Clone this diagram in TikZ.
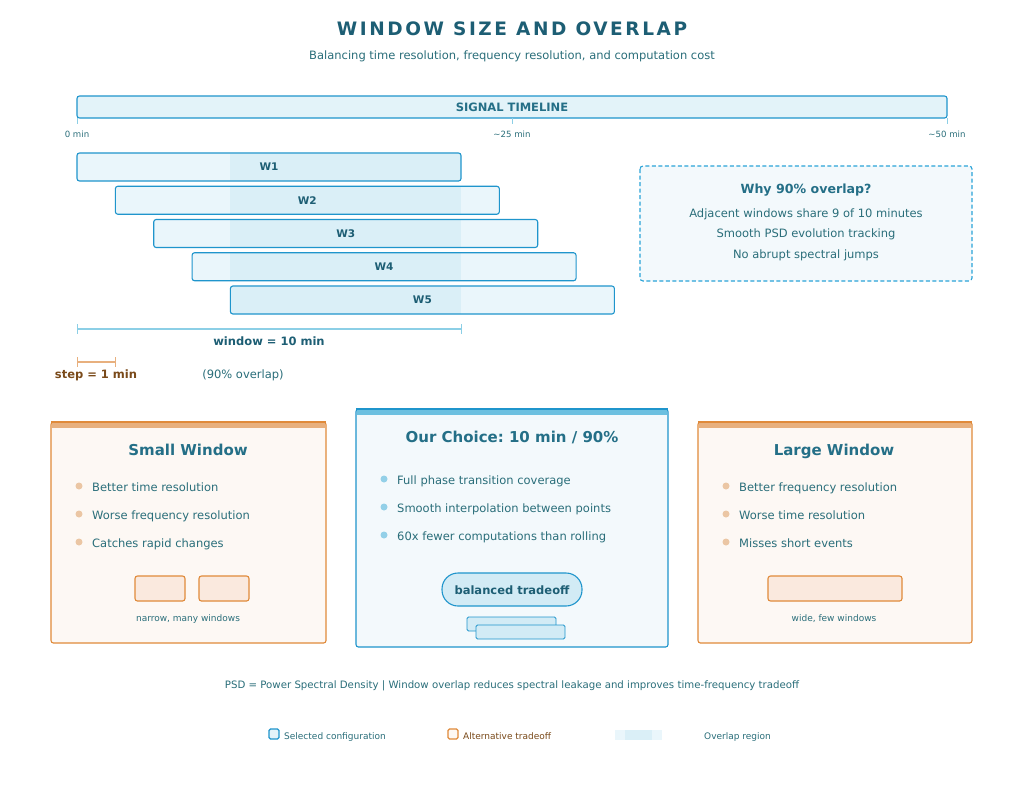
\documentclass[tikz,border=0pt]{standalone}
\usepackage{fontspec}
\setmainfont{DejaVu Sans}
\newfontfamily\titlefont[LetterSpace=14]{DejaVu Sans}
\frenchspacing
\definecolor{ttl}{HTML}{1D5E74}
\definecolor{ctl}{HTML}{246F87}
\definecolor{txt}{HTML}{2A6E7A}
\definecolor{blu}{HTML}{1F95CC}
\definecolor{bluD}{HTML}{2AA3D8}
\definecolor{bluL}{HTML}{8CCFE6}
\definecolor{bluF}{HTML}{E3F3F9}
\definecolor{winF}{HTML}{EAF6FB}
\definecolor{ovF}{HTML}{DAEFF7}
\definecolor{pillF}{HTML}{D2EBF5}
\definecolor{cardB}{HTML}{F3F9FC}
\definecolor{bluBand}{HTML}{6CC0E0}
\definecolor{org}{HTML}{E08A3A}
\definecolor{orgL}{HTML}{E8B07E}
\definecolor{orgF}{HTML}{FDF8F4}
\definecolor{orgBox}{HTML}{FAE9DE}
\definecolor{dotO}{HTML}{EBC6A4}
\definecolor{dotB}{HTML}{93D0E8}
\definecolor{brn}{HTML}{7A4A1A}
\tikzset{
  every node/.style={anchor=base, inner sep=0pt},
  win/.style={draw=blu, line width=1.1pt, rounded corners=2.5pt},
  lbl/.style={font=\fontsize{10.5}{12}\selectfont\bfseries, text=ttl},
  body/.style={font=\fontsize{11.5}{13}\selectfont, text=txt},
  bullet/.style={body, anchor=base west},
  card/.style={line width=1.1pt, rounded corners=2.5pt},
  cardtitle/.style={font=\fontsize{15}{18}\selectfont\bfseries, text=ctl},
  small/.style={font=\fontsize{9}{11}\selectfont, text=txt},
  tick/.style={font=\fontsize{8.6}{10}\selectfont, text=txt}
}
\begin{document}
\begin{tikzpicture}[x=1pt,y=-1pt]
\useasboundingbox (0,0) rectangle (1024,793);
\fill[white] (0,0) rectangle (1024,793);
% title
\node[font=\titlefont\fontsize{18.5}{22}\selectfont\bfseries, text=ttl] (title) at (512,35.7) {WINDOW SIZE AND OVERLAP};
\node[font=\fontsize{11.5}{13}\selectfont, text=txt] (sub) at (512,59.1) {Balancing time resolution, frequency resolution, and computation cost};
% timeline
\draw[win, fill=bluF] (77,96) rectangle (947,118);
\node[lbl, font=\fontsize{11.5}{13}\selectfont\bfseries, text=ctl] (tl) at (512,111.1) {SIGNAL TIMELINE};
\foreach \x/\t [count=\i] in {77/0 min,512/\textasciitilde25 min,947/\textasciitilde50 min}{
  \draw[bluL, line width=0.8pt] (\x,118) -- (\x,124);
  \node[tick] (tk\i) at (\x,137.1) {\t};
}
% windows
\foreach \i in {1,...,5}{
  \pgfmathsetmacro{\xa}{77+38.35*(\i-1)}
  \pgfmathsetmacro{\ya}{153+33.25*(\i-1)}
  \fill[winF, rounded corners=2.5pt] (\xa,\ya) rectangle ++(384,28);
  \fill[ovF] (230,\ya+0.5) rectangle (461,\ya+27.5);
  \draw[win] (\xa,\ya) rectangle ++(384,28);
  \node[lbl] (w\i) at (\xa+192,\ya+17.8) {W\i};
}
% window dimension
\draw[bluL, line width=1.3pt] (77,329) -- (461,329);
\draw[bluL, line width=0.8pt] (77,324) -- (77,334) (461,324) -- (461,334);
\node[lbl, font=\fontsize{11.5}{13}\selectfont\bfseries] (wl) at (269,345.1) {window = 10 min};
% step
\draw[orgL, line width=1.3pt] (77,362) -- (115,362);
\draw[orgL, line width=0.8pt] (77,357) -- (77,367) (115,357) -- (115,367);
\node[font=\fontsize{11.5}{13}\selectfont\bfseries, text=brn] (sl) at (96,378.1) {step = 1 min};
\node[body] (ov) at (243,378.1) {(90\% overlap)};
% why box
\draw[draw=bluD, dash pattern=on 4pt off 2.5pt, line width=1.1pt, fill=cardB, rounded corners=3pt] (640,166) rectangle (972,281);
\node[font=\fontsize{12.6}{15}\selectfont\bfseries, text=ctl] (why) at (806,193.5) {Why 90\% overlap?};
\node[body] (why1) at (806,217.1) {Adjacent windows share 9 of 10 minutes};
\node[body] (why2) at (806,237.6) {Smooth PSD evolution tracking};
\node[body] (why3) at (806,258.1) {No abrupt spectral jumps};
% small window card
\draw[card, draw=org, fill=orgF] (51,422) rectangle (326,643);
\fill[orgL] (51.6,422.6) rectangle (325.4,428);
\draw[org, line width=1.1pt] (51,422) -- (326,422);
\node[cardtitle] (st) at (188,455.4) {Small Window};
\foreach \y/\t [count=\i] in {486/Better time resolution,514/Worse frequency resolution,542/Catches rapid changes}{
  \fill[dotO] (79,\y) circle (3.5);
  \node[bullet] (sb\i) at (92,\y+5.1) {\t};
}
\draw[card, draw=org, fill=orgBox] (135,576) rectangle (185,601);
\draw[card, draw=org, fill=orgBox] (199,576) rectangle (249,601);
\node[small] (sc) at (188,621.2) {narrow, many windows};
% center card
\draw[card, draw=blu, fill=cardB] (356,409) rectangle (668,647);
\fill[bluBand] (356.6,409.6) rectangle (667.4,415);
\draw[blu, line width=1.1pt] (356,409) -- (668,409);
\node[cardtitle] (ct) at (512,442.4) {Our Choice: 10 min / 90\%};
\foreach \y/\t [count=\i] in {479/Full phase transition coverage,507/Smooth interpolation between points,535/60x fewer computations than rolling}{
  \fill[dotB] (384,\y) circle (3.5);
  \node[bullet] (cb\i) at (397,\y+5.1) {\t};
}
\draw[line width=1.1pt, draw=blu, fill=pillF, rounded corners=16pt] (442,573) rectangle (582,606);
\node[lbl, font=\fontsize{11.5}{13}\selectfont\bfseries] (bt) at (512,594.1) {balanced tradeoff};
\draw[draw=blu, fill=pillF, line width=0.8pt, rounded corners=1.5pt] (467,617) rectangle (556,631);
\draw[draw=blu, fill=pillF, line width=0.8pt, rounded corners=1.5pt] (476,625) rectangle (565,639);
% large window card
\draw[card, draw=org, fill=orgF] (698,422) rectangle (972,643);
\fill[orgL] (698.6,422.6) rectangle (971.4,428);
\draw[org, line width=1.1pt] (698,422) -- (972,422);
\node[cardtitle] (lt) at (834,455.4) {Large Window};
\foreach \y/\t [count=\i] in {486/Better frequency resolution,514/Worse time resolution,542/Misses short events}{
  \fill[dotO] (726,\y) circle (3.5);
  \node[bullet] (lb\i) at (739,\y+5.1) {\t};
}
\draw[card, draw=org, fill=orgBox] (768,576) rectangle (902,601);
\node[small] (lc) at (834,621.2) {wide, few windows};
% footer
\node[font=\fontsize{10.2}{12}\selectfont, text=txt] (foot) at (512,688.7) {PSD = Power Spectral Density | Window overlap reduces spectral leakage and improves time-frequency tradeoff};
% legend
\draw[draw=blu, fill=bluF, line width=1.1pt, rounded corners=1.5pt] (269,729) rectangle (279,739);
\node[small, anchor=base west] (lg1) at (284,739.2) {Selected configuration};
\draw[draw=org, fill=orgF, line width=1.1pt, rounded corners=1.5pt] (448,729) rectangle (458,739);
\node[small, anchor=base west, text=brn] (lg2) at (463,739.2) {Alternative tradeoff};
\fill[winF] (615,730) rectangle (662,740);
\fill[ovF] (625,730) rectangle (652,740);
\node[small, anchor=base west] (lg3) at (704,739.2) {Overlap region};
\end{tikzpicture}
\end{document}
